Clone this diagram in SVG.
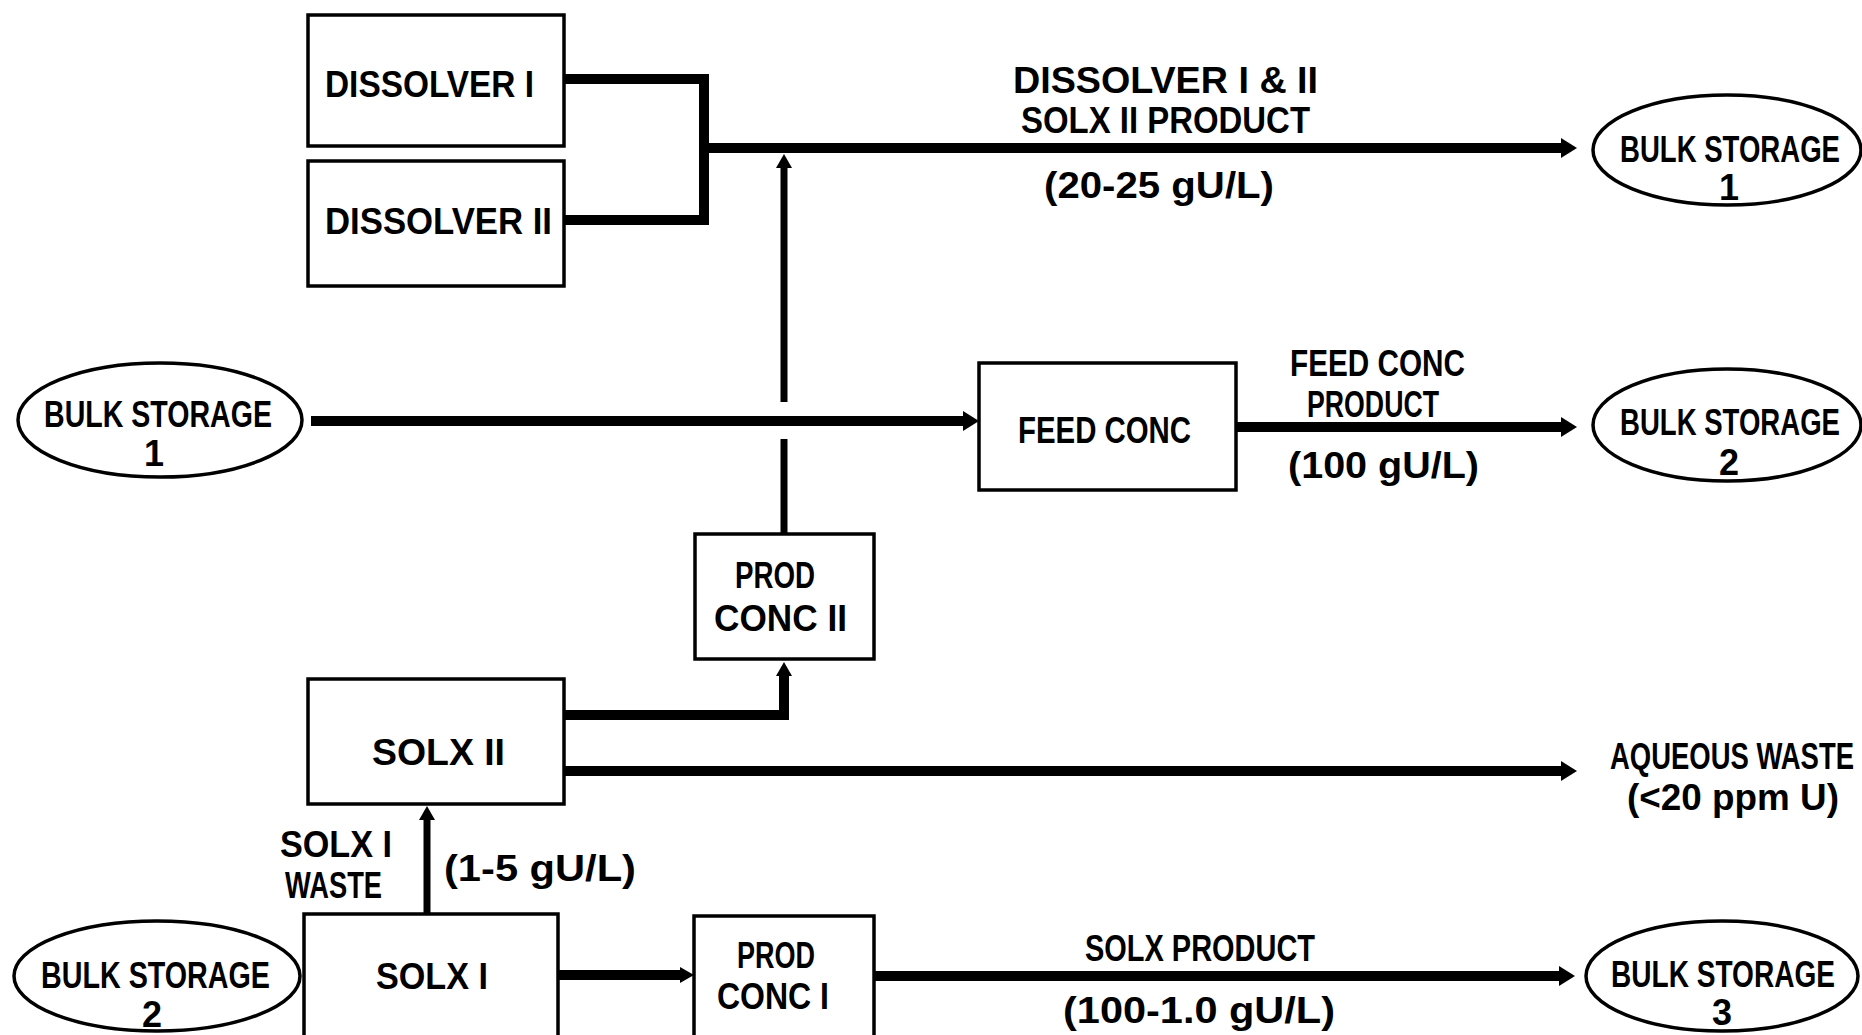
<svg xmlns="http://www.w3.org/2000/svg" width="1862" height="1035" viewBox="0 0 1862 1035">
<defs>
<style>
.box{fill:#fff;stroke:#000;stroke-width:3.5}
.ell{fill:#fff;stroke:#000;stroke-width:3.5}
.t{font-family:"Liberation Sans","DejaVu Sans",sans-serif;font-weight:bold;font-size:36px;fill:#000}
.m{text-anchor:middle}
.c{fill:none;stroke:#000;stroke-width:10;stroke-linejoin:miter}
.cs{fill:none;stroke:#000;stroke-width:7}
</style>
<marker id="ah" viewBox="0 0 16 20" refX="0" refY="10" markerWidth="16" markerHeight="20" markerUnits="userSpaceOnUse" orient="auto"><path d="M0,0 L16,10 L0,20 z" fill="#000"/></marker>
<marker id="ahs" viewBox="0 0 14 16" refX="0" refY="8" markerWidth="14" markerHeight="16" markerUnits="userSpaceOnUse" orient="auto"><path d="M0,0 L14,8 L0,16 z" fill="#000"/></marker>
</defs>
<rect width="1862" height="1035" fill="#fff"/>
<g id="connectors">
<polyline class="c" points="564,79 704,79 704,152"/>
<polyline class="c" points="564,220 704,220 704,144"/>
<line class="c" x1="700" y1="148" x2="1561" y2="148" marker-end="url(#ah)"/>
<line class="cs" x1="784" y1="534" x2="784" y2="439"/>
<line class="cs" x1="784" y1="402" x2="784" y2="168" marker-end="url(#ahs)"/>
<line class="c" x1="311" y1="421" x2="963" y2="421" marker-end="url(#ah)"/>
<line class="c" x1="1236" y1="427" x2="1561" y2="427" marker-end="url(#ah)"/>
<polyline class="c" points="564,715 784,715 784,676" marker-end="url(#ahs)"/>
<line class="c" x1="564" y1="771" x2="1561" y2="771" marker-end="url(#ah)"/>
<line class="cs" x1="427" y1="914" x2="427" y2="820" marker-end="url(#ahs)"/>
<line class="c" x1="558" y1="975" x2="680" y2="975" marker-end="url(#ahs)"/>
<line class="c" x1="874" y1="976" x2="1559" y2="976" marker-end="url(#ah)"/>
</g>
<g id="dissolver1"><rect class="box" x="308" y="15" width="256" height="131"/><text class="t" x="325" y="97" textLength="209" lengthAdjust="spacingAndGlyphs">DISSOLVER I</text></g>
<g id="dissolver2"><rect class="box" x="308" y="161" width="256" height="125"/><text class="t" x="325" y="234" textLength="227" lengthAdjust="spacingAndGlyphs">DISSOLVER II</text></g>
<g id="feedconc"><rect class="box" x="979" y="363" width="257" height="127"/><text class="t" x="1018" y="443" textLength="173" lengthAdjust="spacingAndGlyphs">FEED CONC</text></g>
<g id="prodconc2"><rect class="box" x="695" y="534" width="179" height="125"/><text class="t" x="735" y="588" textLength="80" lengthAdjust="spacingAndGlyphs">PROD</text><text class="t" x="714" y="631" textLength="133" lengthAdjust="spacingAndGlyphs">CONC II</text></g>
<g id="solx2"><rect class="box" x="308" y="679" width="256" height="125"/><text class="t" x="372" y="765" textLength="133" lengthAdjust="spacingAndGlyphs">SOLX II</text></g>
<g id="solx1"><rect class="box" x="304" y="914" width="254" height="130"/><text class="t" x="376" y="989" textLength="112" lengthAdjust="spacingAndGlyphs">SOLX I</text></g>
<g id="prodconc1"><rect class="box" x="694" y="916" width="180" height="130"/><text class="t" x="737" y="968" textLength="78" lengthAdjust="spacingAndGlyphs">PROD</text><text class="t" x="717" y="1009" textLength="112" lengthAdjust="spacingAndGlyphs">CONC I</text></g>
<g id="bulk1left"><ellipse class="ell" cx="160" cy="420" rx="142" ry="57"/><text class="t" x="44" y="427" textLength="228" lengthAdjust="spacingAndGlyphs">BULK STORAGE</text><text class="t m" x="154" y="466">1</text></g>
<g id="bulk1right"><ellipse class="ell" cx="1727" cy="150" rx="134" ry="55"/><text class="t" x="1620" y="162" textLength="220" lengthAdjust="spacingAndGlyphs">BULK STORAGE</text><text class="t m" x="1729" y="200">1</text></g>
<g id="bulk2right"><ellipse class="ell" cx="1727" cy="425" rx="134" ry="56"/><text class="t" x="1620" y="435" textLength="220" lengthAdjust="spacingAndGlyphs">BULK STORAGE</text><text class="t m" x="1729" y="475">2</text></g>
<g id="bulk2left"><ellipse class="ell" cx="157" cy="976" rx="143" ry="55"/><text class="t" x="41" y="988" textLength="229" lengthAdjust="spacingAndGlyphs">BULK STORAGE</text><text class="t m" x="152" y="1027">2</text></g>
<g id="bulk3"><ellipse class="ell" cx="1722" cy="976" rx="136" ry="55"/><text class="t" x="1611" y="987" textLength="224" lengthAdjust="spacingAndGlyphs">BULK STORAGE</text><text class="t m" x="1722" y="1025">3</text></g>
<g id="labels">
<text class="t" x="1013" y="93" textLength="305" lengthAdjust="spacingAndGlyphs">DISSOLVER I &amp; II</text>
<text class="t" x="1021" y="133" textLength="289" lengthAdjust="spacingAndGlyphs">SOLX II PRODUCT</text>
<text class="t" x="1044" y="198" textLength="230" lengthAdjust="spacingAndGlyphs">(20-25 gU/L)</text>
<text class="t" x="1290" y="376" textLength="175" lengthAdjust="spacingAndGlyphs">FEED CONC</text>
<text class="t" x="1307" y="417" textLength="132" lengthAdjust="spacingAndGlyphs">PRODUCT</text>
<text class="t" x="1288" y="478" textLength="191" lengthAdjust="spacingAndGlyphs">(100 gU/L)</text>
<text class="t" x="1610" y="769" textLength="244" lengthAdjust="spacingAndGlyphs">AQUEOUS WASTE</text>
<text class="t" x="1627" y="810" textLength="212" lengthAdjust="spacingAndGlyphs">(&lt;20 ppm U)</text>
<text class="t" x="280" y="857" textLength="112" lengthAdjust="spacingAndGlyphs">SOLX I</text>
<text class="t" x="285" y="898" textLength="97" lengthAdjust="spacingAndGlyphs">WASTE</text>
<text class="t" x="444" y="881" textLength="192" lengthAdjust="spacingAndGlyphs">(1-5 gU/L)</text>
<text class="t" x="1085" y="961" textLength="230" lengthAdjust="spacingAndGlyphs">SOLX PRODUCT</text>
<text class="t" x="1063" y="1023" textLength="272" lengthAdjust="spacingAndGlyphs">(100-1.0 gU/L)</text>
</g>
</svg>
